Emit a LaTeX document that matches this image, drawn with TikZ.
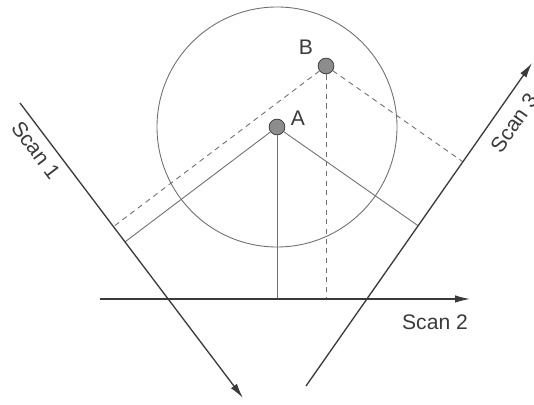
\documentclass[tikz,border=0pt]{standalone}
\usepackage{fontspec}
\setmainfont{Liberation Sans}
\usepackage{xcolor}
\usetikzlibrary{calc,arrows.meta}
\definecolor{scanline}{HTML}{3A3A3A}
\definecolor{projline}{HTML}{6E6E6E}
\definecolor{dotfill}{HTML}{8C8C8C}

\begin{document}
\begin{tikzpicture}[x=0.02cm, y=-0.02cm,
  scanaxis/.style={scanline, line width=0.75pt, -{Latex[length=3mm,width=1.5mm]}},
  projsolid/.style={projline, line width=0.5pt},
  projdash/.style={projline, line width=0.5pt, dash pattern=on 3pt off 2.5pt},
  ptdot/.style={circle, draw=scanline, fill=dotfill, line width=0.4pt, inner sep=0pt, minimum size=9pt},
  scanlabel/.style={font=\fontsize{12}{14}\selectfont, text=scanline},
]
\useasboundingbox (0,0) rectangle (534,405);
\coordinate (s1a) at (20,103);
\coordinate (s1b) at (243,398);
\coordinate (s2a) at (100,299);
\coordinate (s2b) at (470,299);
\coordinate (s3a) at (306,386);
\coordinate (s3b) at (532,63);
\node[ptdot] (A) at (277,127) {};
\node[ptdot] (B) at (326,66) {};
\draw[projline, line width=0.5pt] (A.center) circle (120);
\draw[projsolid] (A) -- ($(s1a)!(A)!(s1b)$);
\draw[projsolid] (A) -- ($(s2a)!(A)!(s2b)$);
\draw[projsolid] (A) -- ($(s3a)!(A)!(s3b)$);
\draw[projdash] (B) -- ($(s1a)!(B)!(s1b)$);
\draw[projdash] (B) -- ($(s2a)!(B)!(s2b)$);
\draw[projdash] (B) -- ($(s3a)!(B)!(s3b)$);
\draw[scanaxis] (s1a) -- (s1b);
\draw[scanaxis] (s2a) -- (s2b);
\draw[scanaxis] (s3a) -- (s3b);
\node[scanlabel] (labA) at (298,118) {A};
\node[scanlabel] (labB) at (306,47) {B};
\node[scanlabel, rotate=-53] (lab1) at (36,150) {Scan 1};
\node[scanlabel] (lab2) at (435,322) {Scan 2};
\node[scanlabel, rotate=55] (lab3) at (514,123) {Scan 3};
\end{tikzpicture}
\end{document}
